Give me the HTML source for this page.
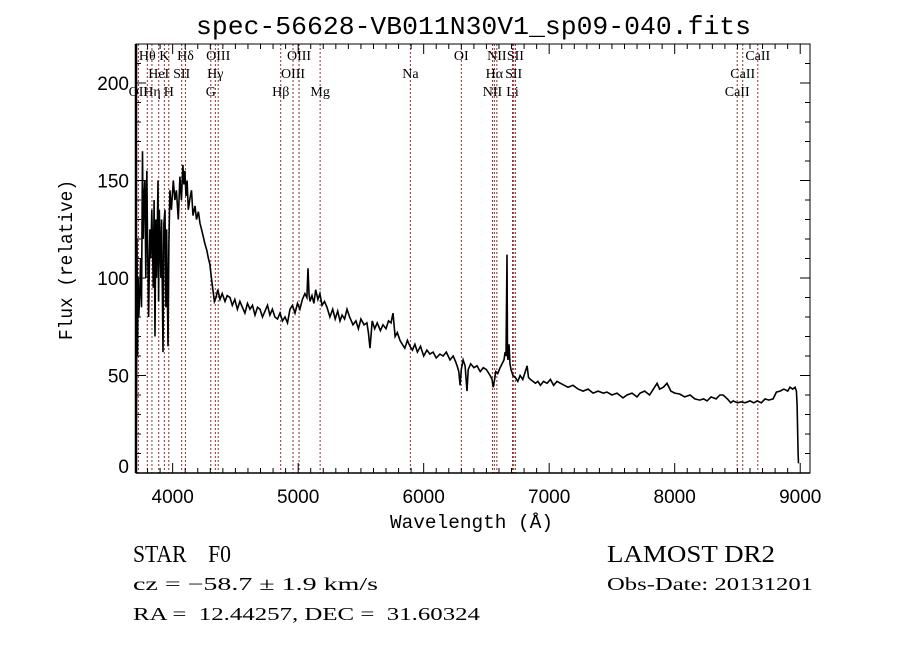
<!DOCTYPE html>
<html><head><meta charset="utf-8"><style>
html,body{margin:0;padding:0;background:#fff;}
svg{display:block;}
text{white-space:pre;}
</style></head><body>
<svg id="chart" width="900" height="649" viewBox="0 0 900 649" xmlns="http://www.w3.org/2000/svg" xml:space="preserve">
<rect width="900" height="649" fill="#fff"/>
<text x="196" y="34" font-family="Liberation Mono, monospace" font-size="26" textLength="555" lengthAdjust="spacingAndGlyphs">spec-56628-VB011N30V1_sp09-040.fits</text>
<g id="lines"></g>
<g id="labels" font-family="Liberation Serif, serif" font-size="14"></g>
<polyline id="spec" fill="none" stroke="#000" stroke-width="1.6" stroke-linejoin="miter"/>
<g id="ticks" stroke="#000" stroke-width="1"></g>
<rect x="136" y="44" width="674" height="429" fill="none" stroke="#000" stroke-width="1"/>
<line x1="136" y1="44" x2="136" y2="473" stroke="#000" stroke-width="2.5"/>
<line x1="136" y1="473" x2="810" y2="473" stroke="#000" stroke-width="1.5"/>
<g id="xlabels" font-family="Liberation Sans, sans-serif" font-size="19" text-anchor="middle"></g>
<g id="ylabels" font-family="Liberation Sans, sans-serif" font-size="19" text-anchor="end"></g>
<text x="390" y="528" font-family="Liberation Mono, monospace" font-size="19" textLength="163" lengthAdjust="spacingAndGlyphs">Wavelength (Å)</text>
<text transform="translate(72,340) rotate(-90)" font-family="Liberation Mono, monospace" font-size="19" textLength="160" lengthAdjust="spacingAndGlyphs">Flux (relative)</text>
<text x="133" y="562" font-family="Liberation Serif, serif" font-size="24" textLength="98" lengthAdjust="spacingAndGlyphs">STAR    F0</text>
<text x="607" y="562" font-family="Liberation Serif, serif" font-size="24" textLength="168" lengthAdjust="spacingAndGlyphs">LAMOST DR2</text>
<text x="133" y="590" font-family="Liberation Serif, serif" font-size="18" textLength="245" lengthAdjust="spacingAndGlyphs">cz = −58.7 ± 1.9 km/s</text>
<text x="607" y="590" font-family="Liberation Serif, serif" font-size="18" textLength="206" lengthAdjust="spacingAndGlyphs">Obs-Date: 20131201</text>
<text x="133" y="620" font-family="Liberation Serif, serif" font-size="18" textLength="347" lengthAdjust="spacingAndGlyphs">RA =  12.44257, DEC =  31.60324</text>
</svg>
<script>
const wavelengths=[
3708,3712,3716,3720,3725,3730,3739,3745,3752,3760,
3765,3772,3779,3786,3794,3800,3808,3819,3826,3834,
3846,3852,3859,3866,3872,3883,3888,3894,3899,3906,
3912,3923,3930,3939,3946,3952,3963,3970,3978,3990,
4005,4018,4030,4045,4058,4070,4082,4090,4098,4106,
4115,4125,4138,4150,4162,4178,4190,4205,4218,4230,
4241,4255,4273,4285,4297,4309,4321,4333,4345,4360,
4377,4395,4417,4435,4457,4475,4495,4516,4536,4556,
4576,4596,4616,4636,4656,4676,4696,4716,4736,4756,
4775,4795,4815,4835,4855,4875,4895,4915,4935,4955,
4975,4995,5014,5034,5054,5070,5078,5086,5094,5110,
5125,5140,5157,5173,5190,5210,5230,5253,5275,5295,
5315,5333,5350,5370,5389,5410,5437,5460,5480,5500,
5525,5548,5560,5572,5590,5610,5630,5655,5676,5700,
5720,5740,5756,5772,5790,5811,5830,5850,5870,5891,
5910,5930,5950,5975,6000,6026,6050,6075,6100,6130,
6155,6180,6210,6235,6255,6266,6280,6290,6300,6314,
6330,6345,6355,6375,6400,6425,6450,6475,6500,6529,
6545,6553,6563,6575,6590,6609,6625,6640,6649,6656,
6664,6668,6672,6680,6688,6696,6712,6730,6750,6768,
6790,6810,6824,6835,6850,6871,6890,6910,6930,6955,
6983,7010,7035,7062,7090,7120,7150,7190,7230,7270,
7310,7350,7390,7430,7461,7500,7540,7588,7620,7660,
7700,7724,7760,7800,7830,7860,7880,7910,7939,7970,
8000,8040,8080,8123,8160,8200,8230,8258,8290,8330,
8360,8386,8420,8446,8466,8500,8530,8560,8600,8630,
8657,8690,8720,8750,8784,8810,8840,8870,8900,8919,
8940,8959,8970,8975,8980,8983,8986];
const fluxValues=[
5,40,120,60,100,80,95,110,85,165,
120,140,150,100,155,122,80,125,110,135,
95,140,70,130,100,150,88,135,120,100,
130,62,128,135,85,125,65,118,145,135,
150,140,145,130,152,140,158,148,155,142,
150,135,141,145,132,137,130,134,128,125,
122,118,114,110,107,100,94,88,90,94,
89,92,88,91,90,86,89,84,88,85,
82,87,84,86,81,85,84,80,83,86,
81,84,80,79,82,78,80,77,84,86,
82,87,84,89,92,90,105,92,88,91,
87,94,89,92,86,88,85,80,84,79,
83,78,81,79,84,80,76,78,74,79,
76,77,72,64,78,74,77,73,76,74,
78,77,82,70,72,68,66,64,68,65,
63,66,62,65,60,63,61,62,59,61,
60,62,58,60,57,55,52,45,53,58,
55,42,53,56,54,55,52,54,53,50,
48,44,47,52,51,54,56,58,62,60,
112,60,58,66,56,53,50,49,47,50,
48,52,55,49,48,47,46,47,45,47,
46,48,45,47,46,45,44,45,43,42,
43,41,42,41,41.5,40,41,38.5,40,41,
39,41,42,40,43,46,43,44,46,42,
41,40.5,39,40,38,37.4,38,37,39,38,
40,40,38,36,37,36,36.5,36,37,36,
37,36,38,37.4,38,41.5,42,43,42,44,
43,44,42,35,20,10,5];
const xTickValues=[4000,5000,6000,7000,8000,9000];
const yTickValues=[0,50,100,150,200];
const lineNames=["OII","Hθ","Hη","HeI","K","H","SII","Hδ","G","Hγ","OIII","Hβ","OIII","OIII","Mg","Na","OI","NII","Hα","NII","Li","SII","SII","CaII","CaII","CaII"];
const lineWaves=[3727,3798,3835,3889,3934,3969,4072,4102,4304,4340,4363,4861,4959,5007,5175,5894,6300,6548,6563,6583,6708,6717,6731,8498,8542,8662];
const lineRows=[3,1,3,2,1,3,2,1,3,2,1,3,2,1,3,2,1,3,2,1,3,2,1,3,2,1];

const X0=136,X1=810,Y0=473,Y1=44,WMIN=3708,WMAX=9078,FMIN=0,FMAX=220;
function xs(w){return X0+(w-WMIN)/(WMAX-WMIN)*(X1-X0);}
function ys(f){return Y0-(f-FMIN)/(FMAX-FMIN)*(Y0-Y1);}
const NS="http://www.w3.org/2000/svg";
function mk(tag,parent,attrs){const e=document.createElementNS(NS,tag);for(const k in attrs)e.setAttribute(k,attrs[k]);parent.appendChild(e);return e;}

const n=Math.min(wavelengths.length,fluxValues.length);
const pts=[];
for(let i=0;i<n;i++)pts.push(xs(wavelengths[i]).toFixed(1)+","+ys(fluxValues[i]).toFixed(1));
document.getElementById("spec").setAttribute("points",pts.join(" "));

const lg=document.getElementById("lines"), lb=document.getElementById("labels");
const rowY={1:60,2:78,3:96};
lineWaves.forEach((w,i)=>{
  const x=xs(w);
  const l=mk("line",lg,{x1:x,x2:x,y1:Y1,y2:Y0,stroke:"#8b2e2e","stroke-width":1,"stroke-dasharray":"2,2"});
  
  
  const t=mk("text",lb,{x:x,y:rowY[lineRows[i]],"text-anchor":"middle"});
  t.textContent=lineNames[i];
  
  
});

const tg=document.getElementById("ticks");
for(let w=3800;w<=9000;w+=100){
  const x=xs(w), major=(w%1000===0), len=major?10:5;
  mk("line",tg,{x1:x,x2:x,y1:Y0,y2:Y0-len});
  mk("line",tg,{x1:x,x2:x,y1:Y1,y2:Y1+len});
}
for(let f=0;f<=220;f+=10){
  const y=ys(f), major=(f%50===0), len=major?10:5;
  mk("line",tg,{x1:X0,x2:X0+len,y1:y,y2:y});
  mk("line",tg,{x1:X1,x2:X1-len,y1:y,y2:y});
}
const xl=document.getElementById("xlabels");
xTickValues.forEach(v=>{
  const t=mk("text",xl,{x:xs(v),y:503});
  t.textContent=v;
  
  
});
const yl=document.getElementById("ylabels");
yTickValues.forEach(v=>{
  const t=mk("text",yl,{x:129,y:ys(v)+(v===0?0:7)});
  t.textContent=v;
  
  
});
</script>
</body></html>
